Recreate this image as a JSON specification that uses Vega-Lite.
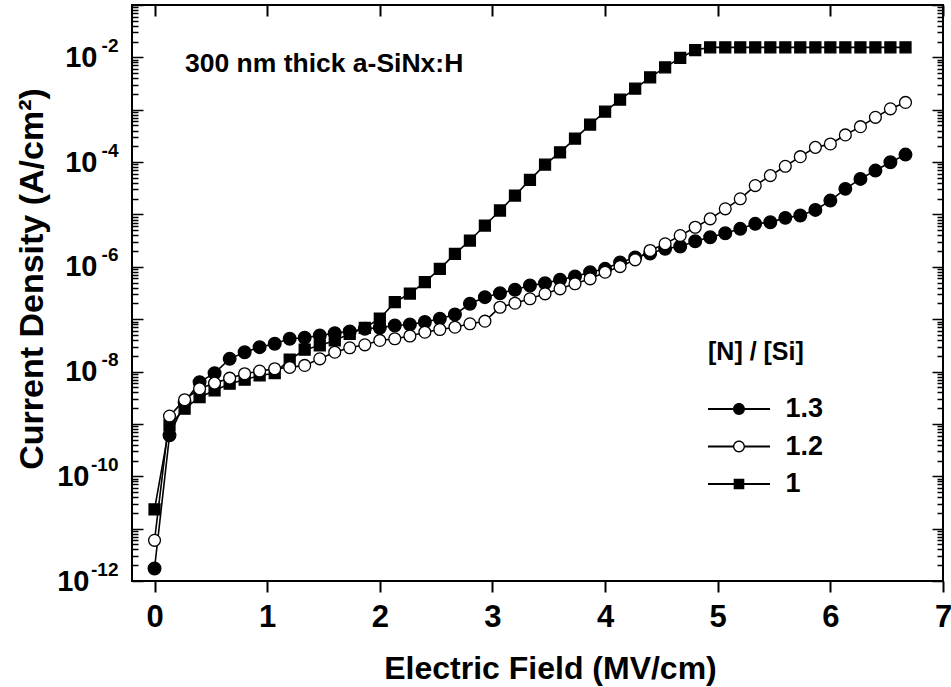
{
  "$schema": "https://vega.github.io/schema/vega-lite/v6.json",
  "width": 811,
  "height": 576,
  "autosize": {"type": "none"},
  "padding": {"left": 132, "top": 5, "right": 8, "bottom": 106},
  "background": "white",
  "config": {
    "font": "Liberation Sans",
    "view": {"stroke": "black", "strokeWidth": 2},
    "axis": {"labelColor": "black", "titleColor": "black", "tickColor": "black", "domain": false, "grid": false, "labelFont": "Liberation Sans", "titleFont": "Liberation Sans", "labelFontWeight": "bold", "titleFontWeight": "bold"}
  },
  "data": {"values": [
    {"s":"1.3","x":0,"J":1.73e-12},{"s":"1.3","x":0.133,"J":6.04e-10},{"s":"1.3","x":0.267,"J":2.57e-9},{"s":"1.3","x":0.4,"J":6.28e-9},{"s":"1.3","x":0.533,"J":9.31e-9},{"s":"1.3","x":0.667,"J":1.75e-8},{"s":"1.3","x":0.8,"J":2.34e-8},{"s":"1.3","x":0.933,"J":2.92e-8},{"s":"1.3","x":1.067,"J":3.40e-8},{"s":"1.3","x":1.2,"J":4.23e-8},{"s":"1.3","x":1.333,"J":4.42e-8},{"s":"1.3","x":1.467,"J":4.89e-8},{"s":"1.3","x":1.6,"J":5.41e-8},{"s":"1.3","x":1.733,"J":5.82e-8},{"s":"1.3","x":1.867,"J":6.56e-8},{"s":"1.3","x":2.0,"J":6.85e-8},{"s":"1.3","x":2.133,"J":7.59e-8},{"s":"1.3","x":2.267,"J":7.93e-8},{"s":"1.3","x":2.4,"J":8.85e-8},{"s":"1.3","x":2.533,"J":1.02e-7},{"s":"1.3","x":2.667,"J":1.23e-7},{"s":"1.3","x":2.8,"J":1.97e-7},{"s":"1.3","x":2.933,"J":2.63e-7},{"s":"1.3","x":3.067,"J":3.13e-7},{"s":"1.3","x":3.2,"J":3.64e-7},{"s":"1.3","x":3.333,"J":4.40e-7},{"s":"1.3","x":3.467,"J":4.86e-7},{"s":"1.3","x":3.6,"J":5.65e-7},{"s":"1.3","x":3.733,"J":6.53e-7},{"s":"1.3","x":3.867,"J":7.89e-7},{"s":"1.3","x":4.0,"J":9.16e-7},{"s":"1.3","x":4.133,"J":1.21e-6},{"s":"1.3","x":4.267,"J":1.51e-6},{"s":"1.3","x":4.4,"J":1.79e-6},{"s":"1.3","x":4.533,"J":2.21e-6},{"s":"1.3","x":4.667,"J":2.44e-6},{"s":"1.3","x":4.8,"J":3.08e-6},{"s":"1.3","x":4.933,"J":3.67e-6},{"s":"1.3","x":5.067,"J":4.38e-6},{"s":"1.3","x":5.2,"J":5.31e-6},{"s":"1.3","x":5.333,"J":6.62e-6},{"s":"1.3","x":5.467,"J":7.10e-6},{"s":"1.3","x":5.6,"J":8.61e-6},{"s":"1.3","x":5.733,"J":9.53e-6},{"s":"1.3","x":5.867,"J":1.22e-5},{"s":"1.3","x":6.0,"J":1.84e-5},{"s":"1.3","x":6.133,"J":3.08e-5},{"s":"1.3","x":6.267,"J":4.77e-5},{"s":"1.3","x":6.4,"J":6.89e-5},{"s":"1.3","x":6.533,"J":9.91e-5},{"s":"1.3","x":6.667,"J":1.39e-4},
    {"s":"1","x":0,"J":2.33e-11},{"s":"1","x":0.133,"J":9.35e-10},{"s":"1","x":0.267,"J":1.95e-9},{"s":"1","x":0.4,"J":3.24e-9},{"s":"1","x":0.533,"J":4.36e-9},{"s":"1","x":0.667,"J":5.85e-9},{"s":"1","x":0.8,"J":6.98e-9},{"s":"1","x":0.933,"J":8.43e-9},{"s":"1","x":1.067,"J":9.31e-9},{"s":"1","x":1.2,"J":1.68e-8},{"s":"1","x":1.333,"J":2.61e-8},{"s":"1","x":1.467,"J":3.15e-8},{"s":"1","x":1.6,"J":3.93e-8},{"s":"1","x":1.733,"J":5.26e-8},{"s":"1","x":1.867,"J":6.85e-8},{"s":"1","x":2.0,"J":1.02e-7},{"s":"1","x":2.133,"J":2.11e-7},{"s":"1","x":2.267,"J":3.09e-7},{"s":"1","x":2.4,"J":5.08e-7},{"s":"1","x":2.533,"J":9.16e-7},{"s":"1","x":2.667,"J":1.77e-6},{"s":"1","x":2.8,"J":3.18e-6},{"s":"1","x":2.933,"J":6.14e-6},{"s":"1","x":3.067,"J":1.19e-5},{"s":"1","x":3.2,"J":2.30e-5},{"s":"1","x":3.333,"J":4.57e-5},{"s":"1","x":3.467,"J":8.95e-5},{"s":"1","x":3.6,"J":1.54e-4},{"s":"1","x":3.733,"J":2.81e-4},{"s":"1","x":3.867,"J":5.20e-4},{"s":"1","x":4.0,"J":9.20e-4},{"s":"1","x":4.133,"J":1.56e-3},{"s":"1","x":4.267,"J":2.53e-3},{"s":"1","x":4.4,"J":4.15e-3},{"s":"1","x":4.533,"J":6.44e-3},{"s":"1","x":4.667,"J":9.75e-3},{"s":"1","x":4.8,"J":1.38e-2},{"s":"1","x":4.933,"J":1.55e-2},{"s":"1","x":5.067,"J":1.55e-2},{"s":"1","x":5.2,"J":1.55e-2},{"s":"1","x":5.333,"J":1.55e-2},{"s":"1","x":5.467,"J":1.55e-2},{"s":"1","x":5.6,"J":1.55e-2},{"s":"1","x":5.733,"J":1.55e-2},{"s":"1","x":5.867,"J":1.55e-2},{"s":"1","x":6.0,"J":1.55e-2},{"s":"1","x":6.133,"J":1.55e-2},{"s":"1","x":6.267,"J":1.55e-2},{"s":"1","x":6.4,"J":1.55e-2},{"s":"1","x":6.533,"J":1.55e-2},{"s":"1","x":6.667,"J":1.55e-2},
    {"s":"1.2","x":0,"J":5.98e-12},{"s":"1.2","x":0.133,"J":1.41e-9},{"s":"1.2","x":0.267,"J":2.90e-9},{"s":"1.2","x":0.4,"J":4.70e-9},{"s":"1.2","x":0.533,"J":6.01e-9},{"s":"1.2","x":0.667,"J":7.48e-9},{"s":"1.2","x":0.8,"J":9.08e-9},{"s":"1.2","x":0.933,"J":1.02e-8},{"s":"1.2","x":1.067,"J":1.13e-8},{"s":"1.2","x":1.2,"J":1.20e-8},{"s":"1.2","x":1.333,"J":1.31e-8},{"s":"1.2","x":1.467,"J":1.75e-8},{"s":"1.2","x":1.6,"J":2.34e-8},{"s":"1.2","x":1.733,"J":2.84e-8},{"s":"1.2","x":1.867,"J":3.24e-8},{"s":"1.2","x":2.0,"J":3.93e-8},{"s":"1.2","x":2.133,"J":4.23e-8},{"s":"1.2","x":2.267,"J":4.77e-8},{"s":"1.2","x":2.4,"J":5.65e-8},{"s":"1.2","x":2.533,"J":6.35e-8},{"s":"1.2","x":2.667,"J":7.03e-8},{"s":"1.2","x":2.8,"J":8.17e-8},{"s":"1.2","x":2.933,"J":9.16e-8},{"s":"1.2","x":3.067,"J":1.69e-7},{"s":"1.2","x":3.2,"J":2.02e-7},{"s":"1.2","x":3.333,"J":2.45e-7},{"s":"1.2","x":3.467,"J":3.05e-7},{"s":"1.2","x":3.6,"J":3.80e-7},{"s":"1.2","x":3.733,"J":4.74e-7},{"s":"1.2","x":3.867,"J":5.90e-7},{"s":"1.2","x":4.0,"J":7.89e-7},{"s":"1.2","x":4.133,"J":1.01e-6},{"s":"1.2","x":4.267,"J":1.36e-6},{"s":"1.2","x":4.4,"J":2.05e-6},{"s":"1.2","x":4.533,"J":2.75e-6},{"s":"1.2","x":4.667,"J":3.95e-6},{"s":"1.2","x":4.8,"J":5.70e-6},{"s":"1.2","x":4.933,"J":8.24e-6},{"s":"1.2","x":5.067,"J":1.28e-5},{"s":"1.2","x":5.2,"J":1.99e-5},{"s":"1.2","x":5.333,"J":3.56e-5},{"s":"1.2","x":5.467,"J":5.52e-5},{"s":"1.2","x":5.6,"J":8.32e-5},{"s":"1.2","x":5.733,"J":1.27e-4},{"s":"1.2","x":5.867,"J":1.91e-4},{"s":"1.2","x":6.0,"J":2.22e-4},{"s":"1.2","x":6.133,"J":3.30e-4},{"s":"1.2","x":6.267,"J":4.75e-4},{"s":"1.2","x":6.4,"J":7.16e-4},{"s":"1.2","x":6.533,"J":1.04e-3},{"s":"1.2","x":6.667,"J":1.38e-3}
  ]},
  "layer": [
    {
      "mark": {"type": "line", "color": "black", "strokeWidth": 1.6},
      "encoding": {
        "x": {"field": "x", "type": "quantitative", "scale": {"domain": [-0.2, 7], "nice": false, "zero": false},
          "axis": {"orient": "bottom", "values": [0,1,2,3,4,5,6,7], "tickSize": 11, "tickWidth": 2, "labelFontSize": 31, "labelPadding": 10, "labelFlush": false, "title": "Electric Field (MV/cm)", "titleFontSize": 32, "titleX": 418, "titleY": 97.6, "titleBaseline": "alphabetic"}},
        "y": {"field": "J", "type": "quantitative", "scale": {"type": "log", "domain": [1e-12, 0.1], "nice": false},
          "axis": {"orient": "left", "values": [1e-12,1e-10,1e-8,1e-6,1e-4,1e-2], "labelExpr": "'10'", "ticks": false, "labelFontSize": 29, "labelAlign": "right", "labelBaseline": "middle", "labelPadding": {"condition": {"test": "datum.value < 1e-9", "value": 43}, "value": 35}, "labelFlush": false, "labelOverlap": false, "title": "Current Density (A/cm²)", "titleFontSize": 34, "titleX": -90, "titleY": 273.5, "titleBaseline": "alphabetic", "titleAngle": -90}},
        "detail": {"field": "s"}
      }
    },
    {
      "mark": {"type": "point", "stroke": "black", "strokeWidth": 1.3, "opacity": 1},
      "encoding": {
        "x": {"field": "x", "type": "quantitative",
          "axis": {"orient": "top", "values": [0,1,2,3,4,5,6,7], "tickSize": -11, "tickWidth": 2, "labels": false, "title": null}},
        "y": {"field": "J", "type": "quantitative",
          "axis": {"orient": "left", "values": [1e-12,1e-10,1e-8,1e-6,1e-4,1e-2], "labelExpr": "'-' + round(-log(datum.value)/LN10)", "ticks": false, "labelFontSize": 19, "labelAlign": "right", "labelBaseline": "middle", "labelPadding": 14, "labelOffset": -12, "labelFlush": false, "labelOverlap": false, "title": null}},
        "shape": {"field": "s", "type": "nominal", "scale": {"domain": ["1.3","1.2","1"], "range": ["circle","circle","square"]}, "legend": null},
        "fill": {"field": "s", "type": "nominal", "scale": {"domain": ["1.3","1.2","1"], "range": ["black","white","black"]}, "legend": null},
        "size": {"field": "s", "type": "ordinal", "scale": {"domain": ["1.3","1.2","1"], "range": [160,120,165]}, "legend": null}
      }
    },
    {
      "data": {"values": [{"x": 0.27, "J": 0.0052, "t": "300 nm thick a-SiNx:H"}]},
      "mark": {"type": "text", "align": "left", "baseline": "alphabetic", "fontSize": 26.5, "fontWeight": "bold", "font": "Liberation Sans", "color": "black"},
      "encoding": {
        "x": {"field": "x", "type": "quantitative", "axis": null},
        "y": {"field": "J", "type": "quantitative",
          "axis": {"orient": "left", "values": [1e-12,2e-12,3e-12,4e-12,5e-12,6e-12,7e-12,8e-12,9e-12,1e-11,2e-11,3e-11,4e-11,5e-11,6e-11,7e-11,8e-11,9e-11,1e-10,2e-10,3e-10,4e-10,5e-10,6e-10,7e-10,8e-10,9e-10,1e-9,2e-9,3e-9,4e-9,5e-9,6e-9,7e-9,8e-9,9e-9,1e-8,2e-8,3e-8,4e-8,5e-8,6e-8,7e-8,8e-8,9e-8,1e-7,2e-7,3e-7,4e-7,5e-7,6e-7,7e-7,8e-7,9e-7,1e-6,2e-6,3e-6,4e-6,5e-6,6e-6,7e-6,8e-6,9e-6,1e-5,2e-5,3e-5,4e-5,5e-5,6e-5,7e-5,8e-5,9e-5,1e-4,2e-4,3e-4,4e-4,5e-4,6e-4,7e-4,8e-4,9e-4,1e-3,2e-3,3e-3,4e-3,5e-3,6e-3,7e-3,8e-3,9e-3,1e-2,2e-2,3e-2,4e-2,5e-2,6e-2,7e-2,8e-2,9e-2,1e-1], "labels": false, "tickWidth": 1.5, "tickSize": {"condition": {"test": "abs(log(datum.value)/LN10 - round(log(datum.value)/LN10)) < 0.01", "value": -11}, "value": -6}, "title": null}},
        "text": {"field": "t"}
      }
    },
    {
      "transform": [{"filter": "false"}],
      "mark": {"type": "point", "filled": true, "color": "black", "opacity": 1},
      "encoding": {
        "x": {"field": "x", "type": "quantitative", "axis": null},
        "y": {"field": "J", "type": "quantitative",
          "axis": {"orient": "right", "values": [1e-12,2e-12,3e-12,4e-12,5e-12,6e-12,7e-12,8e-12,9e-12,1e-11,2e-11,3e-11,4e-11,5e-11,6e-11,7e-11,8e-11,9e-11,1e-10,2e-10,3e-10,4e-10,5e-10,6e-10,7e-10,8e-10,9e-10,1e-9,2e-9,3e-9,4e-9,5e-9,6e-9,7e-9,8e-9,9e-9,1e-8,2e-8,3e-8,4e-8,5e-8,6e-8,7e-8,8e-8,9e-8,1e-7,2e-7,3e-7,4e-7,5e-7,6e-7,7e-7,8e-7,9e-7,1e-6,2e-6,3e-6,4e-6,5e-6,6e-6,7e-6,8e-6,9e-6,1e-5,2e-5,3e-5,4e-5,5e-5,6e-5,7e-5,8e-5,9e-5,1e-4,2e-4,3e-4,4e-4,5e-4,6e-4,7e-4,8e-4,9e-4,1e-3,2e-3,3e-3,4e-3,5e-3,6e-3,7e-3,8e-3,9e-3,1e-2,2e-2,3e-2,4e-2,5e-2,6e-2,7e-2,8e-2,9e-2,1e-1], "labels": false, "tickWidth": 1.5, "tickSize": {"condition": {"test": "abs(log(datum.value)/LN10 - round(log(datum.value)/LN10)) < 0.01", "value": -11}, "value": -6}, "title": null}},
        "shape": {"field": "s", "type": "nominal",
          "scale": {"domain": ["1.3","1.2","1"], "range": [
            "M-1.32,-0.047H1.32V0.047H-1.32Z M0.255,0A0.255,0.255 0 1,1 -0.255,0A0.255,0.255 0 1,1 0.255,0Z",
            "M-1.32,-0.047H-0.23V0.047H-1.32Z M0.23,-0.047H1.32V0.047H0.23Z M0.255,0A0.255,0.255 0 1,1 -0.255,0A0.255,0.255 0 1,1 0.255,0Z M0.196,0A0.196,0.196 0 1,0 -0.196,0A0.196,0.196 0 1,0 0.196,0Z",
            "M-1.32,-0.047H1.32V0.047H-1.32Z M-0.226,-0.226H0.226V0.226H-0.226Z"]},
          "legend": {"title": "[N] / [Si]", "orient": "none", "legendX": 576, "legendY": 335, "symbolSize": 2209, "symbolOffset": 7.5, "symbolOpacity": 1, "symbolStrokeWidth": 0, "symbolFillColor": "black", "labelFontSize": 27, "labelFontWeight": "bold", "labelFont": "Liberation Sans", "labelColor": "black", "labelOffset": 23, "titleFontSize": 25, "titleFontWeight": "bold", "titleFont": "Liberation Sans", "titleColor": "black", "titlePadding": 20.5, "rowPadding": 0.5, "padding": 0}}
      }
    }
  ],
  "resolve": {"scale": {"shape": "independent"}, "axis": {"x": "independent", "y": "independent"}}
}
